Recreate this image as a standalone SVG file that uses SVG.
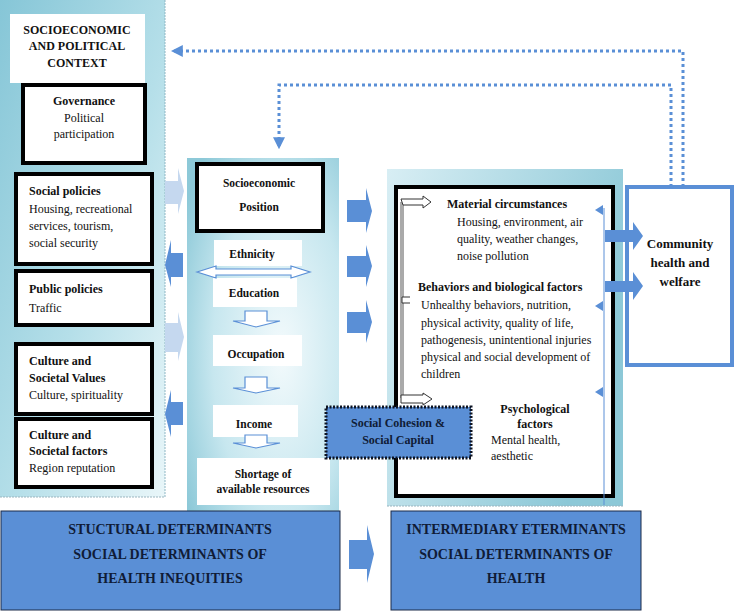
<svg xmlns="http://www.w3.org/2000/svg" width="734" height="612" viewBox="0 0 734 612">
<defs>
<linearGradient id="gLeft" x1="0" y1="0" x2="1" y2="1">
<stop offset="0" stop-color="#86c6d7"/>
<stop offset="0.55" stop-color="#b5dfe9"/>
<stop offset="1" stop-color="#e9f6f9"/>
</linearGradient>
<radialGradient id="gMid" cx="0.62" cy="0.55" r="0.75">
<stop offset="0" stop-color="#f3fafc"/>
<stop offset="0.6" stop-color="#c7e7ef"/>
<stop offset="1" stop-color="#8dc9d8"/>
</radialGradient>
<linearGradient id="gRight" x1="0" y1="0" x2="1" y2="0.4">
<stop offset="0" stop-color="#d8eef4"/>
<stop offset="1" stop-color="#8cc8d7"/>
</linearGradient>
<marker id="mArrow" viewBox="0 0 10 10" refX="9" refY="5" markerWidth="4" markerHeight="4" orient="auto" markerUnits="strokeWidth">
<path d="M0,0 L10,5 L0,10 Z" fill="#5a8fd6"/>
</marker>
<style>
text{font-family:"Liberation Serif","Times New Roman",serif;fill:#111;}
.b{font-weight:bold;}
.t12{font-size:12px;}
.t11{font-size:11.5px;}
.t13{font-size:13px;}
.c{text-anchor:middle;}
.box{fill:#fff;stroke:#000;stroke-width:4;}
.wbox{fill:#fff;}
.blue{fill:#5a8fd6;}
.light{fill:#c5d8ef;}
.outl{fill:#fff;stroke:#5a8fd6;stroke-width:1.2;}
.dot{fill:none;stroke:#5a8fd6;stroke-width:3;stroke-dasharray:3 3;}
.big{fill:#5a8fd6;stroke:#1b2a48;stroke-width:1;}
.bigt{font-family:"Liberation Serif","Times New Roman",serif;font-weight:bold;font-size:14px;fill:#101c36;text-anchor:middle;}
</style>
</defs>

<rect width="734" height="612" fill="#fff"/>

<!-- panels -->
<g id="panel-left">
<rect x="0" y="0" width="165" height="497" fill="url(#gLeft)"/>
<line x1="165" y1="0" x2="165" y2="497" stroke="#8fb7c4" stroke-width="1" stroke-dasharray="2 1"/>
<line x1="0" y1="497" x2="165" y2="497" stroke="#9ab5bf" stroke-width="1" stroke-dasharray="2 1"/>
</g>
<g id="panel-middle">
<rect x="187" y="158" width="152" height="354" fill="url(#gMid)"/>
</g>
<g id="panel-right">
<rect x="387" y="169" width="236" height="337" fill="url(#gRight)"/>
<line x1="387" y1="506" x2="623" y2="506" stroke="#9ab5bf" stroke-width="1" stroke-dasharray="2 1"/>
</g>

<!-- left column nodes -->
<g id="context">
<rect x="10" y="14" width="135" height="69" class="wbox"/>
<text class="b t12 c" x="77" y="34">SOCIOECONOMIC</text>
<text class="b t12 c" x="77" y="50">AND POLITICAL</text>
<text class="b t12 c" x="77" y="67">CONTEXT</text>
</g>
<g id="governance">
<rect x="23" y="85" width="122" height="78" class="box"/>
<text class="b t12 c" x="84" y="105">Governance</text>
<text class="t12 c" x="84" y="122">Political</text>
<text class="t12 c" x="84" y="138">participation</text>
</g>
<g id="social-policies">
<rect x="16" y="174" width="136" height="90" class="box"/>
<text class="b t12" x="29" y="195">Social policies</text>
<text class="t12" x="29" y="213">Housing, recreational</text>
<text class="t12" x="29" y="230">services, tourism,</text>
<text class="t12" x="29" y="247">social security</text>
</g>
<g id="public-policies">
<rect x="16" y="271" width="136" height="54" class="box"/>
<text class="b t12" x="29" y="293">Public policies</text>
<text class="t12" x="29" y="312">Traffic</text>
</g>
<g id="culture-values">
<rect x="16" y="344" width="136" height="70" class="box"/>
<text class="b t12" x="29" y="365">Culture and</text>
<text class="b t12" x="29" y="382">Societal Values</text>
<text class="t12" x="29" y="399">Culture, spirituality</text>
</g>
<g id="culture-factors">
<rect x="16" y="419" width="136" height="68" class="box"/>
<text class="b t12" x="29" y="439">Culture and</text>
<text class="b t12" x="29" y="455">Societal factors</text>
<text class="t12" x="29" y="472">Region reputation</text>
</g>

<!-- middle column nodes -->
<g id="socioeconomic-position">
<rect x="197" y="164" width="126" height="67" class="box"/>
<text class="b t11 c" x="259" y="187">Socioeconomic</text>
<text class="b t11 c" x="259" y="211">Position</text>
</g>
<g id="ethnicity">
<rect x="214" y="240" width="88" height="26" class="wbox"/>
<text class="b t11 c" x="252" y="258">Ethnicity</text>
</g>
<g id="education">
<rect x="213" y="278" width="84" height="29" class="wbox"/>
<text class="b t11 c" x="254" y="297">Education</text>
</g>
<g id="occupation">
<rect x="213" y="335" width="89" height="31" class="wbox"/>
<text class="b t11 c" x="256" y="358">Occupation</text>
</g>
<g id="income">
<rect x="213" y="405" width="85" height="32" class="wbox"/>
<text class="b t11 c" x="254" y="428">Income</text>
</g>
<g id="shortage">
<rect x="197" y="458" width="133" height="47" class="wbox"/>
<text class="b t11 c" x="263" y="478">Shortage of</text>
<text class="b t11 c" x="263" y="493">available resources</text>
</g>

<!-- right column nodes -->
<g id="intermediary-box">
<rect x="396" y="187" width="217" height="309" class="box"/>
<line x1="604" y1="208" x2="604" y2="505" stroke="#5a8fd6" stroke-width="1"/>
</g>
<g id="material">
<text class="b t12" x="447" y="208">Material circumstances</text>
<text class="t12" x="457" y="226">Housing, environment, air</text>
<text class="t12" x="457" y="243">quality, weather changes,</text>
<text class="t12" x="457" y="260">noise pollution</text>
</g>
<g id="behaviors">
<text class="b t12" x="418" y="291">Behaviors and biological factors</text>
<text class="t12" x="421" y="309">Unhealthy behaviors, nutrition,</text>
<text class="t12" x="421" y="327">physical activity, quality of life,</text>
<text class="t12" x="421" y="344">pathogenesis, unintentional injuries</text>
<text class="t12" x="421" y="361">physical and social development of</text>
<text class="t12" x="421" y="378">children</text>
</g>
<g id="psychological">
<text class="b t12 c" x="535" y="413">Psychological</text>
<text class="b t12 c" x="535" y="428">factors</text>
<text class="t12" x="491" y="444">Mental health,</text>
<text class="t12" x="491" y="460">aesthetic</text>
</g>
<g id="social-cohesion">
<rect x="326" y="407" width="145" height="51" fill="#5a8fd6" stroke="#0d1424" stroke-width="3" stroke-dasharray="2 1.5"/>
<text class="b t12 c" x="398" y="427" style="fill:#101c36">Social Cohesion &amp;</text>
<text class="b t12 c" x="398" y="444" style="fill:#101c36">Social Capital</text>
</g>
<g id="community">
<rect x="627" y="187" width="105" height="178" fill="#fff" stroke="#5a8fd6" stroke-width="4"/>
<text class="b t13 c" x="680" y="248">Community</text>
<text class="b t13 c" x="680" y="267">health and</text>
<text class="b t13 c" x="680" y="286">welfare</text>
</g>

<!-- bottom nodes -->
<g id="structural">
<rect x="1" y="511" width="339" height="99" class="big"/>
<text class="bigt" x="170" y="534">STUCTURAL DETERMINANTS</text>
<text class="bigt" x="170" y="559">SOCIAL DETERMINANTS OF</text>
<text class="bigt" x="170" y="583">HEALTH INEQUITIES</text>
</g>
<g id="intermediary">
<rect x="391" y="511" width="250" height="99" class="big"/>
<text class="bigt" x="516" y="534">INTERMEDIARY ETERMINANTS</text>
<text class="bigt" x="516" y="559">SOCIAL DETERMINANTS OF</text>
<text class="bigt" x="516" y="583">HEALTH</text>
</g>

<!-- connectors -->
<g id="connectors">
<polygon class="light" points="165,181 178,181 178,168 184,191 178,214 178,204 165,204"/>
<polygon class="blue" points="183,253 171,253 171,240 165,265 171,287 171,277 183,277"/>
<polygon class="light" points="165,323 178,323 178,312 184,337 178,361 178,352 165,352"/>
<polygon class="blue" points="183,402 171,402 171,390 165,414 171,437 171,425 183,425"/>
<polygon class="blue" points="347,200 366,200 366,188 372,211 366,233 366,222 347,222"/>
<polygon class="blue" points="347,256 366,256 366,245 372,266 366,287 366,277 347,277"/>
<polygon class="blue" points="347,312 366,312 366,300 372,322 366,343 366,333 347,333"/>
<polygon class="blue" points="349,540 367,540 367,525 374,554 367,583 367,569 349,569"/>
<polygon class="blue" points="605,230 633,230 633,222 643,236 633,250 633,242 605,242"/>
<polygon class="blue" points="605,281 633,281 633,272 643,286 633,300 633,292 605,292"/>
<polygon class="outl" points="197,272 216,266 216,269 291,269 291,266 310,272 291,278 291,275 216,275 216,278"/>
<polygon class="outl" points="245,311 267,311 267,321 280,321 256,327 233,321 245,321"/>
<polygon class="outl" points="245,377 267,377 267,388 280,388 256,393 233,388 245,388"/>
<polygon class="outl" points="245,435 267,435 267,443 280,443 256,448 233,443 245,443"/>
<path d="M401,202 V398 M403,204 V396" fill="none" stroke="#555" stroke-width="1"/>
<polygon points="401,199 423,199 423,196 431,202 423,208 423,205 403,205" fill="#fff" stroke="#333" stroke-width="1"/>
<polygon points="401,395 423,395 423,393 432,399 423,405 423,403 401,403" fill="#fff" stroke="#333" stroke-width="1"/>
<path d="M410,297 H402 V303 H410" fill="#fff" stroke="#333" stroke-width="1"/>
<polygon class="blue" points="603,205 603,215 595,210"/>
<polygon class="blue" points="603,301 603,311 595,306"/>
<polygon class="blue" points="603,387 603,397 595,392"/>
<path class="dot" d="M683,187 V51 H172" marker-end="url(#mArrow)"/>
<path class="dot" d="M671,187 V85 H279 V148" marker-end="url(#mArrow)"/>
</g>
</svg>
